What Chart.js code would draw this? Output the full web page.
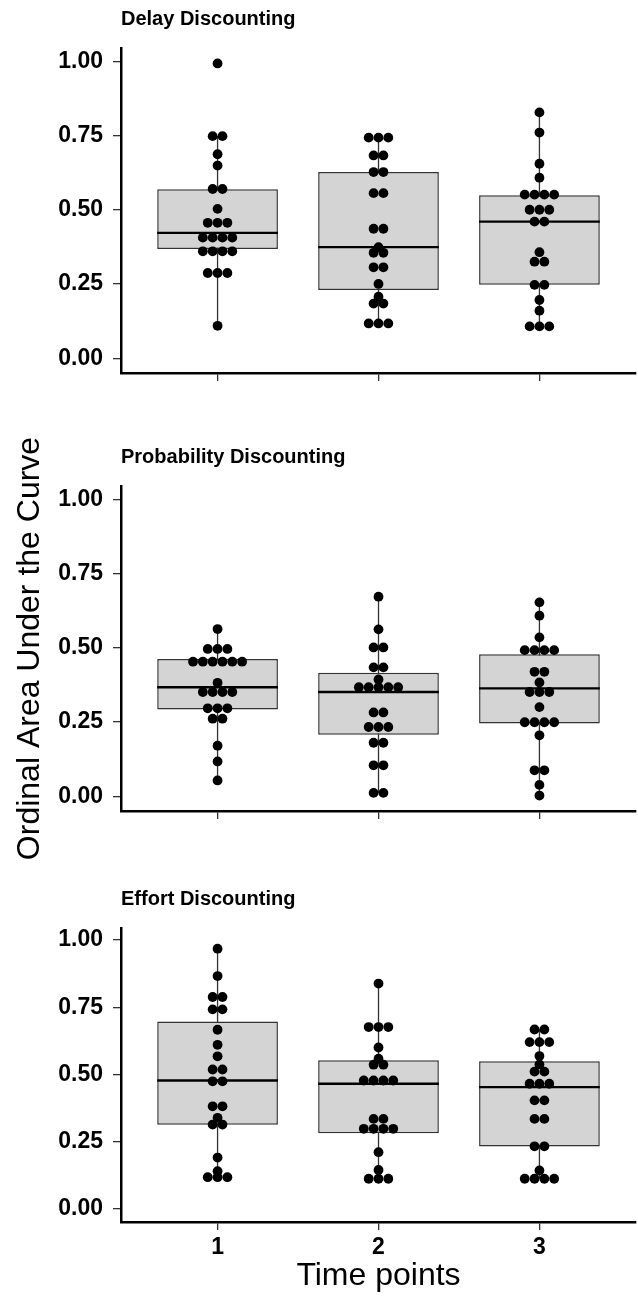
<!DOCTYPE html>
<html>
<head>
<meta charset="utf-8">
<script src="https://cdn.jsdelivr.net/npm/chart.js@4.4.1/dist/chart.umd.min.js"></script>
<style>
    html, body { margin: 0; padding: 0; background: #fff; }
    #page { position: relative; width: 638px; height: 1299px; }
    .panel { position: absolute; left: 0; width: 638px; }
</style>
</head>
<body>
<div id="page">
    <div class="panel" style="top:0;height:399px"><canvas id="delayChart"></canvas></div>
    <div class="panel" style="top:880px;height:419px"><canvas id="effortChart"></canvas></div>
    <!-- taller box so the shared y title has room -->
    <div class="panel" style="top:388px;height:500px"><canvas id="probChart"></canvas></div>
</div>
<script>
// x axis: time points
const timePoints = [1, 2, 3];
const timeLabels = ['1', '2', '3'];
const yTicks = [0, 0.25, 0.5, 0.75, 1];

// Delay discounting - one value per participant (dots)
const delayT1 = [0.109, 0.287, 0.287, 0.287, 0.360, 0.360, 0.360, 0.360, 0.406, 0.406, 0.406, 0.406,
    0.456, 0.456, 0.456, 0.503, 0.570, 0.570, 0.649, 0.687, 0.748, 0.748, 0.993];
const delayT2 = [0.117, 0.117, 0.117, 0.184, 0.184, 0.207, 0.250, 0.306, 0.306, 0.355, 0.355, 0.374,
    0.436, 0.436, 0.556, 0.556, 0.627, 0.627, 0.683, 0.683, 0.743, 0.743, 0.743];
const delayT3 = [0.107, 0.107, 0.107, 0.160, 0.196, 0.247, 0.247, 0.325, 0.325, 0.357, 0.460, 0.460,
    0.500, 0.500, 0.500, 0.551, 0.551, 0.551, 0.551, 0.608, 0.655, 0.760, 0.828];
// box hinges and medians
const delayQ1 = [0.368, 0.230, 0.247];
const delayMedian = [0.422, 0.374, 0.460];
const delayQ3 = [0.569, 0.627, 0.549];

// Probability discounting
const probT1 = [0.053, 0.117, 0.170, 0.261, 0.261, 0.296, 0.296, 0.296, 0.351, 0.351, 0.351, 0.351,
    0.382, 0.453, 0.453, 0.453, 0.453, 0.453, 0.453, 0.496, 0.496, 0.496, 0.563];
const probT2 = [0.011, 0.011, 0.104, 0.104, 0.180, 0.180, 0.233, 0.233, 0.233, 0.282, 0.282, 0.367,
    0.367, 0.367, 0.367, 0.367, 0.393, 0.434, 0.434, 0.501, 0.501, 0.562, 0.672];
const probT3 = [0.002, 0.038, 0.087, 0.087, 0.205, 0.249, 0.249, 0.249, 0.249, 0.300, 0.351, 0.351,
    0.351, 0.383, 0.419, 0.419, 0.492, 0.492, 0.492, 0.492, 0.535, 0.608, 0.653];
const probQ1 = [0.292, 0.207, 0.245];
const probMedian = [0.367, 0.351, 0.363];
const probQ3 = [0.462, 0.416, 0.478];

// Effort discounting
const effortT1 = [0.117, 0.117, 0.117, 0.139, 0.190, 0.313, 0.313, 0.338, 0.381, 0.381, 0.474, 0.474,
    0.518, 0.518, 0.567, 0.610, 0.666, 0.742, 0.742, 0.788, 0.788, 0.866, 0.968];
const effortT2 = [0.111, 0.111, 0.111, 0.144, 0.210, 0.297, 0.297, 0.297, 0.297, 0.334, 0.334, 0.477,
    0.477, 0.477, 0.477, 0.536, 0.536, 0.558, 0.600, 0.676, 0.676, 0.676, 0.838];
const effortT3 = [0.111, 0.111, 0.111, 0.111, 0.142, 0.232, 0.232, 0.334, 0.334, 0.403, 0.403, 0.465,
    0.465, 0.465, 0.510, 0.510, 0.537, 0.568, 0.620, 0.620, 0.620, 0.667, 0.667];
const effortQ1 = [0.312, 0.281, 0.231];
const effortMedian = [0.477, 0.465, 0.452];
const effortQ3 = [0.697, 0.552, 0.549];

const FONT = "'Liberation Sans', Arial, Helvetica, sans-serif";
const DOT_STEP = 0.061; // horizontal spacing of stacked dots, in x units

// spread equal values side by side, centred on the time point
function dotPoints(groups) {
    const pts = [];
    groups.forEach((vals, g) => {
        const counts = {};
        vals.forEach(v => counts[v] = (counts[v] || 0) + 1);
        Object.keys(counts).forEach(k => {
            const n = counts[k];
            for (let i = 0; i < n; i++) {
                pts.push({ x: timePoints[g] + (i - (n - 1) / 2) * DOT_STEP, y: Number(k) });
            }
        });
    });
    return pts;
}

function makePanel(id, title, groups, q1, med, q3, opts) {
    // whiskers reach the furthest dot inside 1.5 IQR
    const whiskers = groups.map((vals, i) => {
        const iqr = q3[i] - q1[i];
        const inside = vals.filter(v => v >= q1[i] - 1.5 * iqr && v <= q3[i] + 1.5 * iqr);
        return { x: timePoints[i], y: [Math.min(...inside), Math.max(...inside)] };
    });

    const axisBorder = { display: true, color: '#000', width: 2.5 };
    const axisGrid = { drawOnChartArea: false, drawTicks: true, tickLength: 8, color: '#333', lineWidth: 1.3, offset: false };
    const tickFont = { family: FONT, size: 23, weight: 'bold' };

    new Chart(document.getElementById(id), {
        type: 'scatter',
        data: {
            datasets: [
                {
                    type: 'bar',
                    data: whiskers,
                    backgroundColor: '#333',
                    barThickness: 1.3,
                    inflateAmount: 0,
                    grouped: false,
                    order: 3
                },
                {
                    type: 'bar',
                    data: timePoints.map((x, i) => ({ x: x, y: [q1[i], q3[i]] })),
                    backgroundColor: '#d4d4d4',
                    borderColor: '#333',
                    borderWidth: 1.5,
                    borderSkipped: false,
                    barPercentage: 0.75,
                    categoryPercentage: 1,
                    grouped: false,
                    order: 2
                },
                {
                    type: 'scatter',
                    data: timePoints.map((x, i) => ({ x: x, y: med[i] })),
                    pointStyle: 'line',
                    pointRadius: 60.4,
                    borderColor: '#000',
                    borderWidth: 2.3,
                    order: 1
                },
                {
                    type: 'scatter',
                    data: dotPoints(groups),
                    pointRadius: 4.9,
                    backgroundColor: '#000',
                    borderColor: '#000',
                    borderWidth: 0,
                    order: 0
                }
            ]
        },
        options: {
            responsive: true,
            maintainAspectRatio: false,
            animation: false,
            events: [],
            layout: {
                autoPadding: false,
                padding: { left: 0, right: 2, top: opts.padTop || 0, bottom: opts.padBottom || 0 }
            },
            plugins: {
                legend: { display: false },
                tooltip: { enabled: false },
                title: {
                    display: true,
                    text: title,
                    align: 'start',
                    fullSize: false,
                    color: '#000',
                    font: { family: FONT, size: 20, weight: 'bold' },
                    padding: { top: 7, bottom: 17 }
                }
            },
            scales: {
                x: {
                    type: 'linear',
                    min: 0.4,
                    max: 3.6,
                    offset: false,
                    afterBuildTicks: s => { s.ticks = timePoints.map(v => ({ value: v })); },
                    afterFit: s => { s.height = opts.bottom ? 77 : 26; },
                    border: axisBorder,
                    grid: axisGrid,
                    ticks: {
                        display: !!opts.bottom,
                        padding: 4,
                        maxRotation: 0,
                        color: '#000',
                        font: tickFont,
                        callback: (v, i) => timeLabels[i]
                    },
                    title: {
                        display: !!opts.bottom,
                        text: 'Time points',
                        color: '#000',
                        font: { family: FONT, size: 32 },
                        padding: { top: 0, bottom: 4 }
                    }
                },
                y: {
                    min: -0.05,
                    max: 1.045,
                    afterBuildTicks: s => { s.ticks = yTicks.map(v => ({ value: v })); },
                    afterFit: s => { s.width = 121; },
                    border: axisBorder,
                    grid: axisGrid,
                    ticks: {
                        padding: 10,
                        color: '#000',
                        font: tickFont,
                        callback: v => v.toFixed(2)
                    },
                    title: {
                        display: !!opts.middle,
                        text: 'Ordinal Area Under the Curve',
                        color: '#000',
                        font: { family: FONT, size: 32 },
                        padding: { top: 11, bottom: 0 }
                    }
                }
            }
        }
    });
}

makePanel('delayChart', 'Delay Discounting', [delayT1, delayT2, delayT3],
    delayQ1, delayMedian, delayQ3, {});
makePanel('probChart', 'Probability Discounting', [probT1, probT2, probT3],
    probQ1, probMedian, probQ3, { middle: true, padTop: 50, padBottom: 51 });
makePanel('effortChart', 'Effort Discounting', [effortT1, effortT2, effortT3],
    effortQ1, effortMedian, effortQ3, { bottom: true });
</script>
</body>
</html>
